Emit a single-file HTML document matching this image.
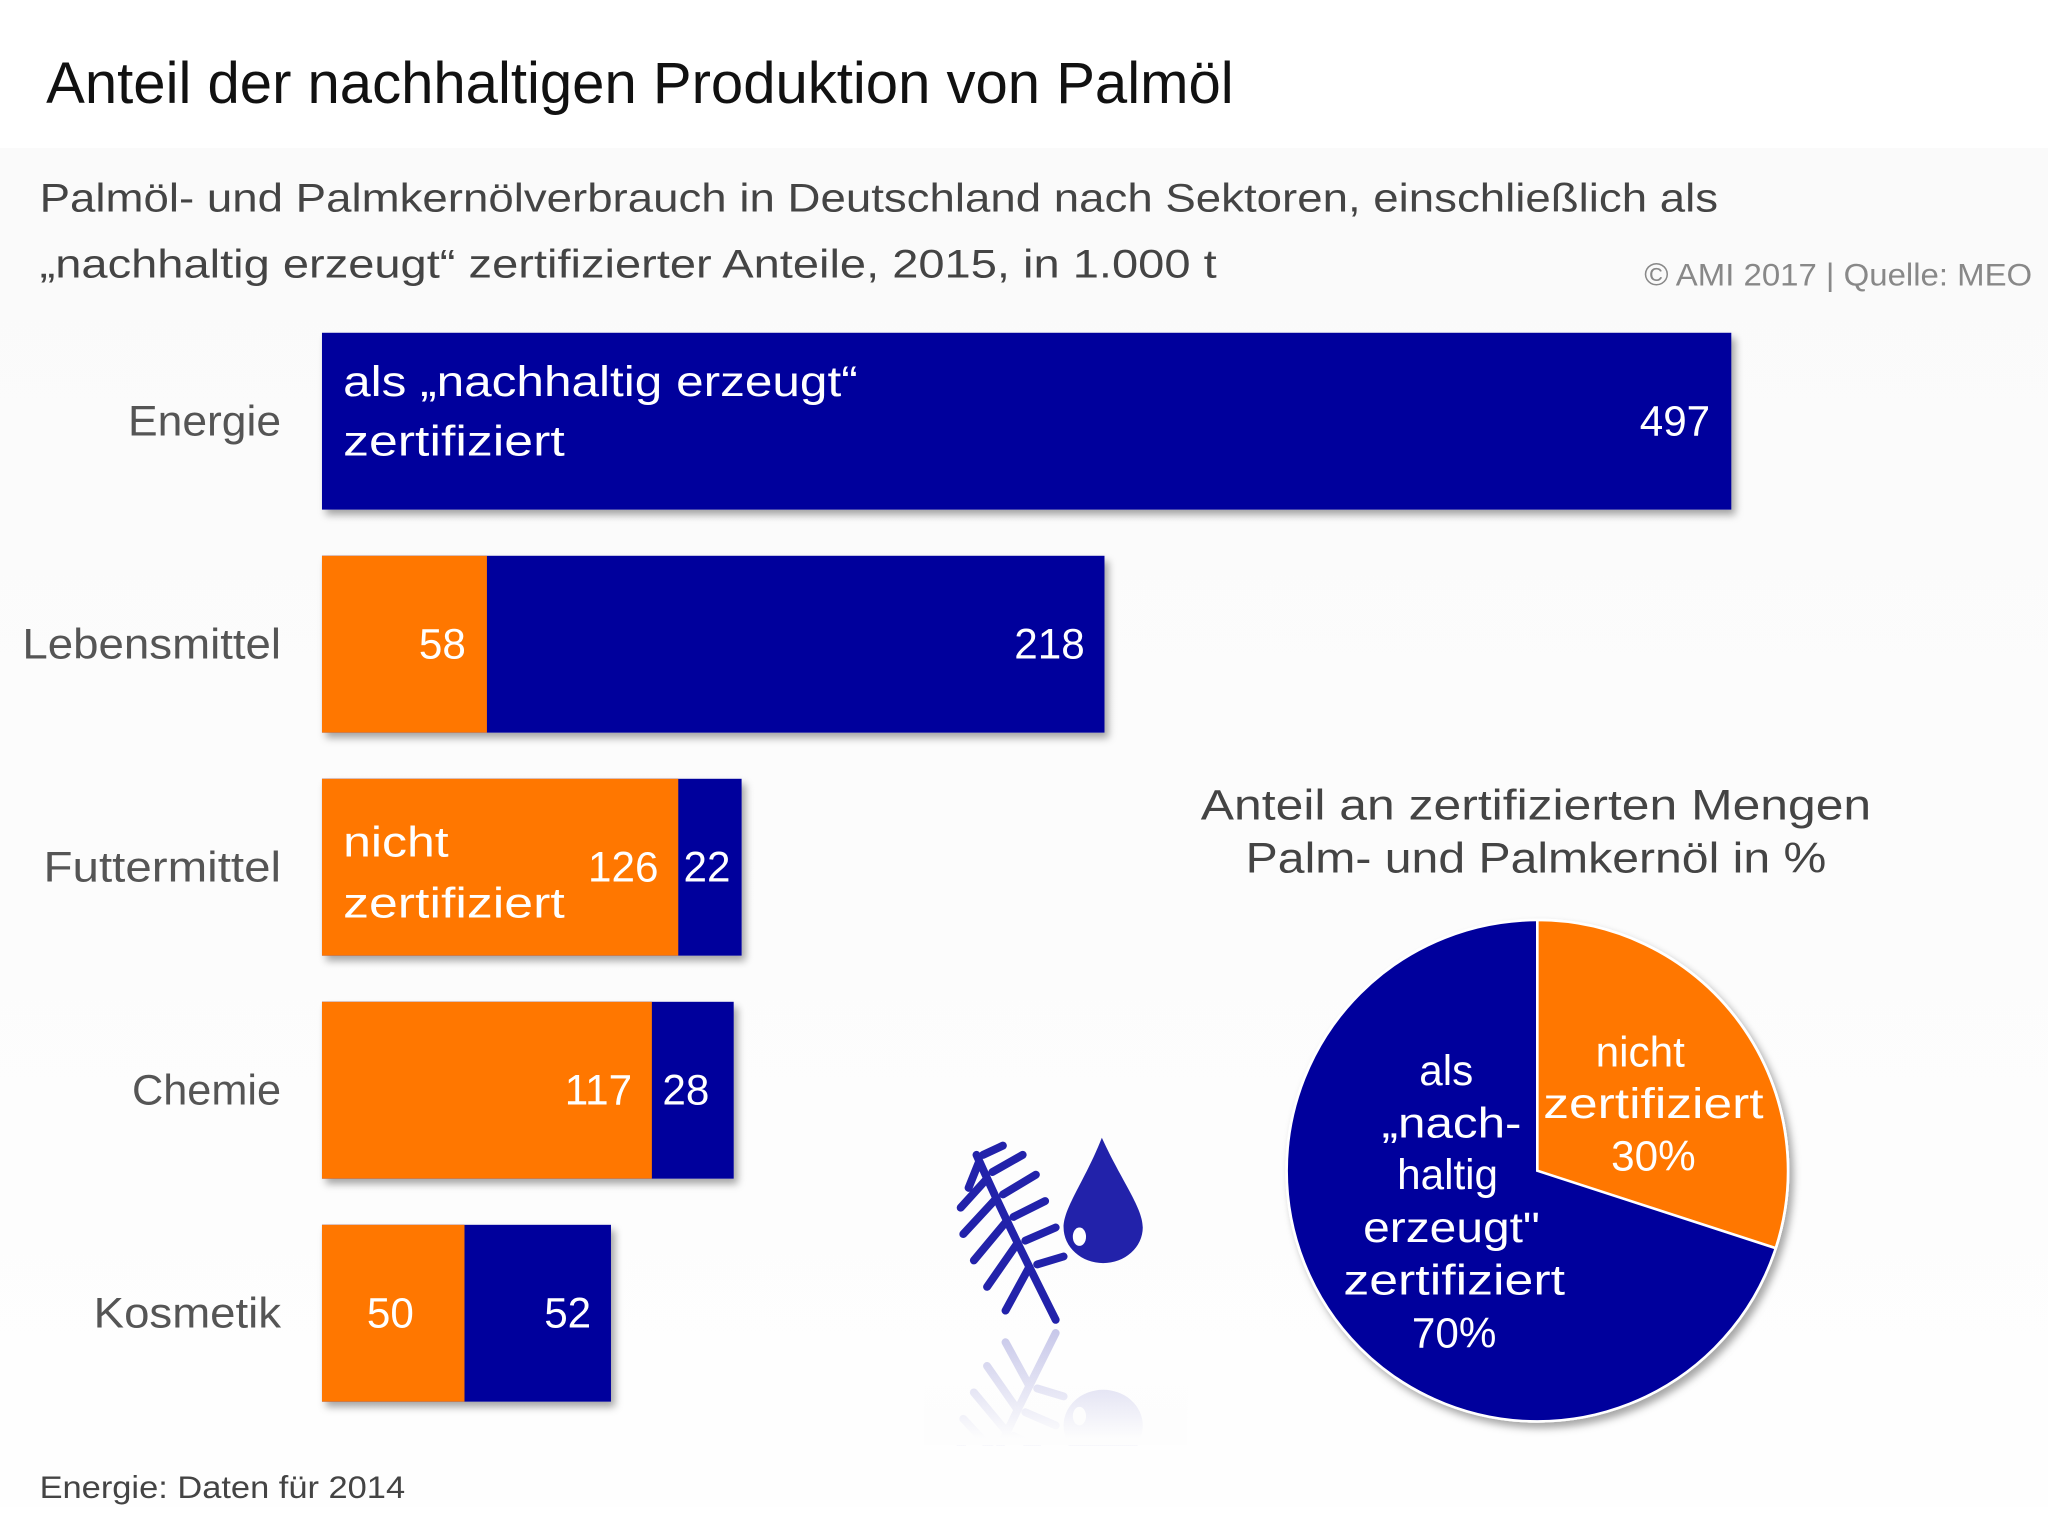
<!DOCTYPE html>
<html><head><meta charset="utf-8"><style>
html,body{margin:0;padding:0;background:#fff;}
svg{display:block;}
text{font-family:"Liberation Sans",sans-serif;}
</style></head><body>
<svg width="2048" height="1518" viewBox="0 0 1552 1150" xmlns="http://www.w3.org/2000/svg">
<defs>
<filter id="sh" x="-5%" y="-5%" width="115%" height="125%"><feDropShadow dx="3" dy="4" stdDeviation="3" flood-color="#000" flood-opacity="0.35"/></filter>
<linearGradient id="bg" x1="0" y1="0" x2="0" y2="1"><stop offset="0" stop-color="#fafafa"/><stop offset="1" stop-color="#fefefe"/></linearGradient>
<linearGradient id="fade" x1="0" y1="1005" x2="0" y2="1090" gradientUnits="userSpaceOnUse"><stop offset="0" stop-color="#fdfdfd" stop-opacity="0"/><stop offset="1" stop-color="#fdfdfd" stop-opacity="1"/></linearGradient>
<clipPath id="rc"><rect x="700" y="1005" width="200" height="90"/></clipPath>
<g id="icon">
<g stroke="#2222aa" stroke-width="6" stroke-linecap="round" fill="none">
<path d="M800,1000 C780,960 760,920 740,875"/>
<path d="M742,880 L734,900 M748,893 L728,915 M755,908 L730,935 M763,925 L738,955 M771,942 L748,975 M780,960 L762,993"/>
<path d="M745,875 L760,868 M752,888 L775,875 M760,905 L785,890 M768,922 L792,910 M777,940 L800,930 M786,958 L806,952"/>
</g>
<path d="M835,862 C850,895 866,915 866,930 A30,27 0 0 1 806,930 C806,915 822,895 835,862 Z" fill="#2222aa"/>
<ellipse cx="818" cy="937" rx="5" ry="7" fill="#fff"/>
</g>
</defs>
<rect width="1552" height="1150" fill="#fff"/>
<rect x="0" y="112" width="1552" height="1030" fill="url(#bg)"/>
<text x="35" y="78" font-size="44" fill="#111">Anteil der nachhaltigen Produktion von Palmöl</text>
<text x="30" y="160" font-size="30" fill="#444" textLength="1272" lengthAdjust="spacingAndGlyphs">Palmöl- und Palmkernölverbrauch in Deutschland nach Sektoren, einschließlich als</text>
<text x="30" y="210" font-size="30" fill="#444" textLength="892" lengthAdjust="spacingAndGlyphs">„nachhaltig erzeugt“ zertifizierter Anteile, 2015, in 1.000 t</text>
<text x="1540" y="216" font-size="24" fill="#888" text-anchor="end" textLength="294" lengthAdjust="spacingAndGlyphs">© AMI 2017 | Quelle: MEO</text>

<g font-size="32" fill="#555" text-anchor="end">
<text x="213" y="330" textLength="116" lengthAdjust="spacingAndGlyphs">Energie</text>
<text x="213" y="499" textLength="196" lengthAdjust="spacingAndGlyphs">Lebensmittel</text>
<text x="213" y="668" textLength="180" lengthAdjust="spacingAndGlyphs">Futtermittel</text>
<text x="213" y="837" textLength="113" lengthAdjust="spacingAndGlyphs">Chemie</text>
<text x="213" y="1006" textLength="142" lengthAdjust="spacingAndGlyphs">Kosmetik</text>
</g>
<g filter="url(#sh)">
<rect x="244" y="252" width="1068" height="134" fill="#00009c"/>
<rect x="244" y="421" width="593" height="134" fill="#00009c"/>
<rect x="244" y="590" width="318" height="134" fill="#00009c"/>
<rect x="244" y="759" width="312" height="134" fill="#00009c"/>
<rect x="244" y="928" width="219" height="134" fill="#00009c"/>
</g>
<rect x="244" y="421" width="125" height="134" fill="#ff7700"/>
<rect x="244" y="590" width="270" height="134" fill="#ff7700"/>
<rect x="244" y="759" width="250" height="134" fill="#ff7700"/>
<rect x="244" y="928" width="108" height="134" fill="#ff7700"/>
<g font-size="32" fill="#fff">
<text x="260" y="300" textLength="390" lengthAdjust="spacingAndGlyphs">als „nachhaltig erzeugt“</text>
<text x="260" y="345" textLength="168" lengthAdjust="spacingAndGlyphs">zertifiziert</text>
<text x="1296" y="330" text-anchor="end">497</text>
<text x="353" y="499" text-anchor="end">58</text>
<text x="822" y="499" text-anchor="end">218</text>
<text x="260" y="649" textLength="80" lengthAdjust="spacingAndGlyphs">nicht</text>
<text x="260" y="695" textLength="168" lengthAdjust="spacingAndGlyphs">zertifiziert</text>
<text x="499" y="668" text-anchor="end">126</text>
<text x="518" y="668">22</text>
<text x="479" y="837" text-anchor="end">117</text>
<text x="502" y="837">28</text>
<text x="278" y="1006">50</text>
<text x="448" y="1006" text-anchor="end">52</text>
</g>

<use href="#icon"/>
<g clip-path="url(#rc)">
<g opacity="0.25" transform="translate(0,2010) scale(1,-1)"><use href="#icon"/></g>
<rect x="700" y="1005" width="200" height="90" fill="url(#fade)"/>
</g>

<text x="1164" y="621" font-size="32" fill="#444" text-anchor="middle" textLength="508" lengthAdjust="spacingAndGlyphs">Anteil an zertifizierten Mengen</text>
<text x="1164" y="661" font-size="32" fill="#444" text-anchor="middle" textLength="440" lengthAdjust="spacingAndGlyphs">Palm- und Palmkernöl in %</text>
<g filter="url(#sh)">
<circle cx="1165" cy="887" r="190" fill="#00009c" stroke="#fff" stroke-width="2"/>
<path d="M1165,887 L1165,697 A190,190 0 0 1 1345.7,945.7 Z" fill="#ff7700" stroke="#fff" stroke-width="2"/>
</g>
<g font-size="32" fill="#fff" text-anchor="middle">
<text x="1243" y="808">nicht</text>
<text x="1253" y="847" textLength="167" lengthAdjust="spacingAndGlyphs">zertifiziert</text>
<text x="1253" y="887">30%</text>
<text x="1096" y="822">als</text>
<text x="1100" y="862" textLength="106" lengthAdjust="spacingAndGlyphs">„nach-</text>
<text x="1097" y="901">haltig</text>
<text x="1100" y="941" textLength="134" lengthAdjust="spacingAndGlyphs">erzeugt"</text>
<text x="1102" y="981" textLength="168" lengthAdjust="spacingAndGlyphs">zertifiziert</text>
<text x="1102" y="1021">70%</text>
</g>
<text x="30" y="1135" font-size="24" fill="#444" textLength="277" lengthAdjust="spacingAndGlyphs">Energie: Daten für 2014</text>
</svg>
</body></html>
